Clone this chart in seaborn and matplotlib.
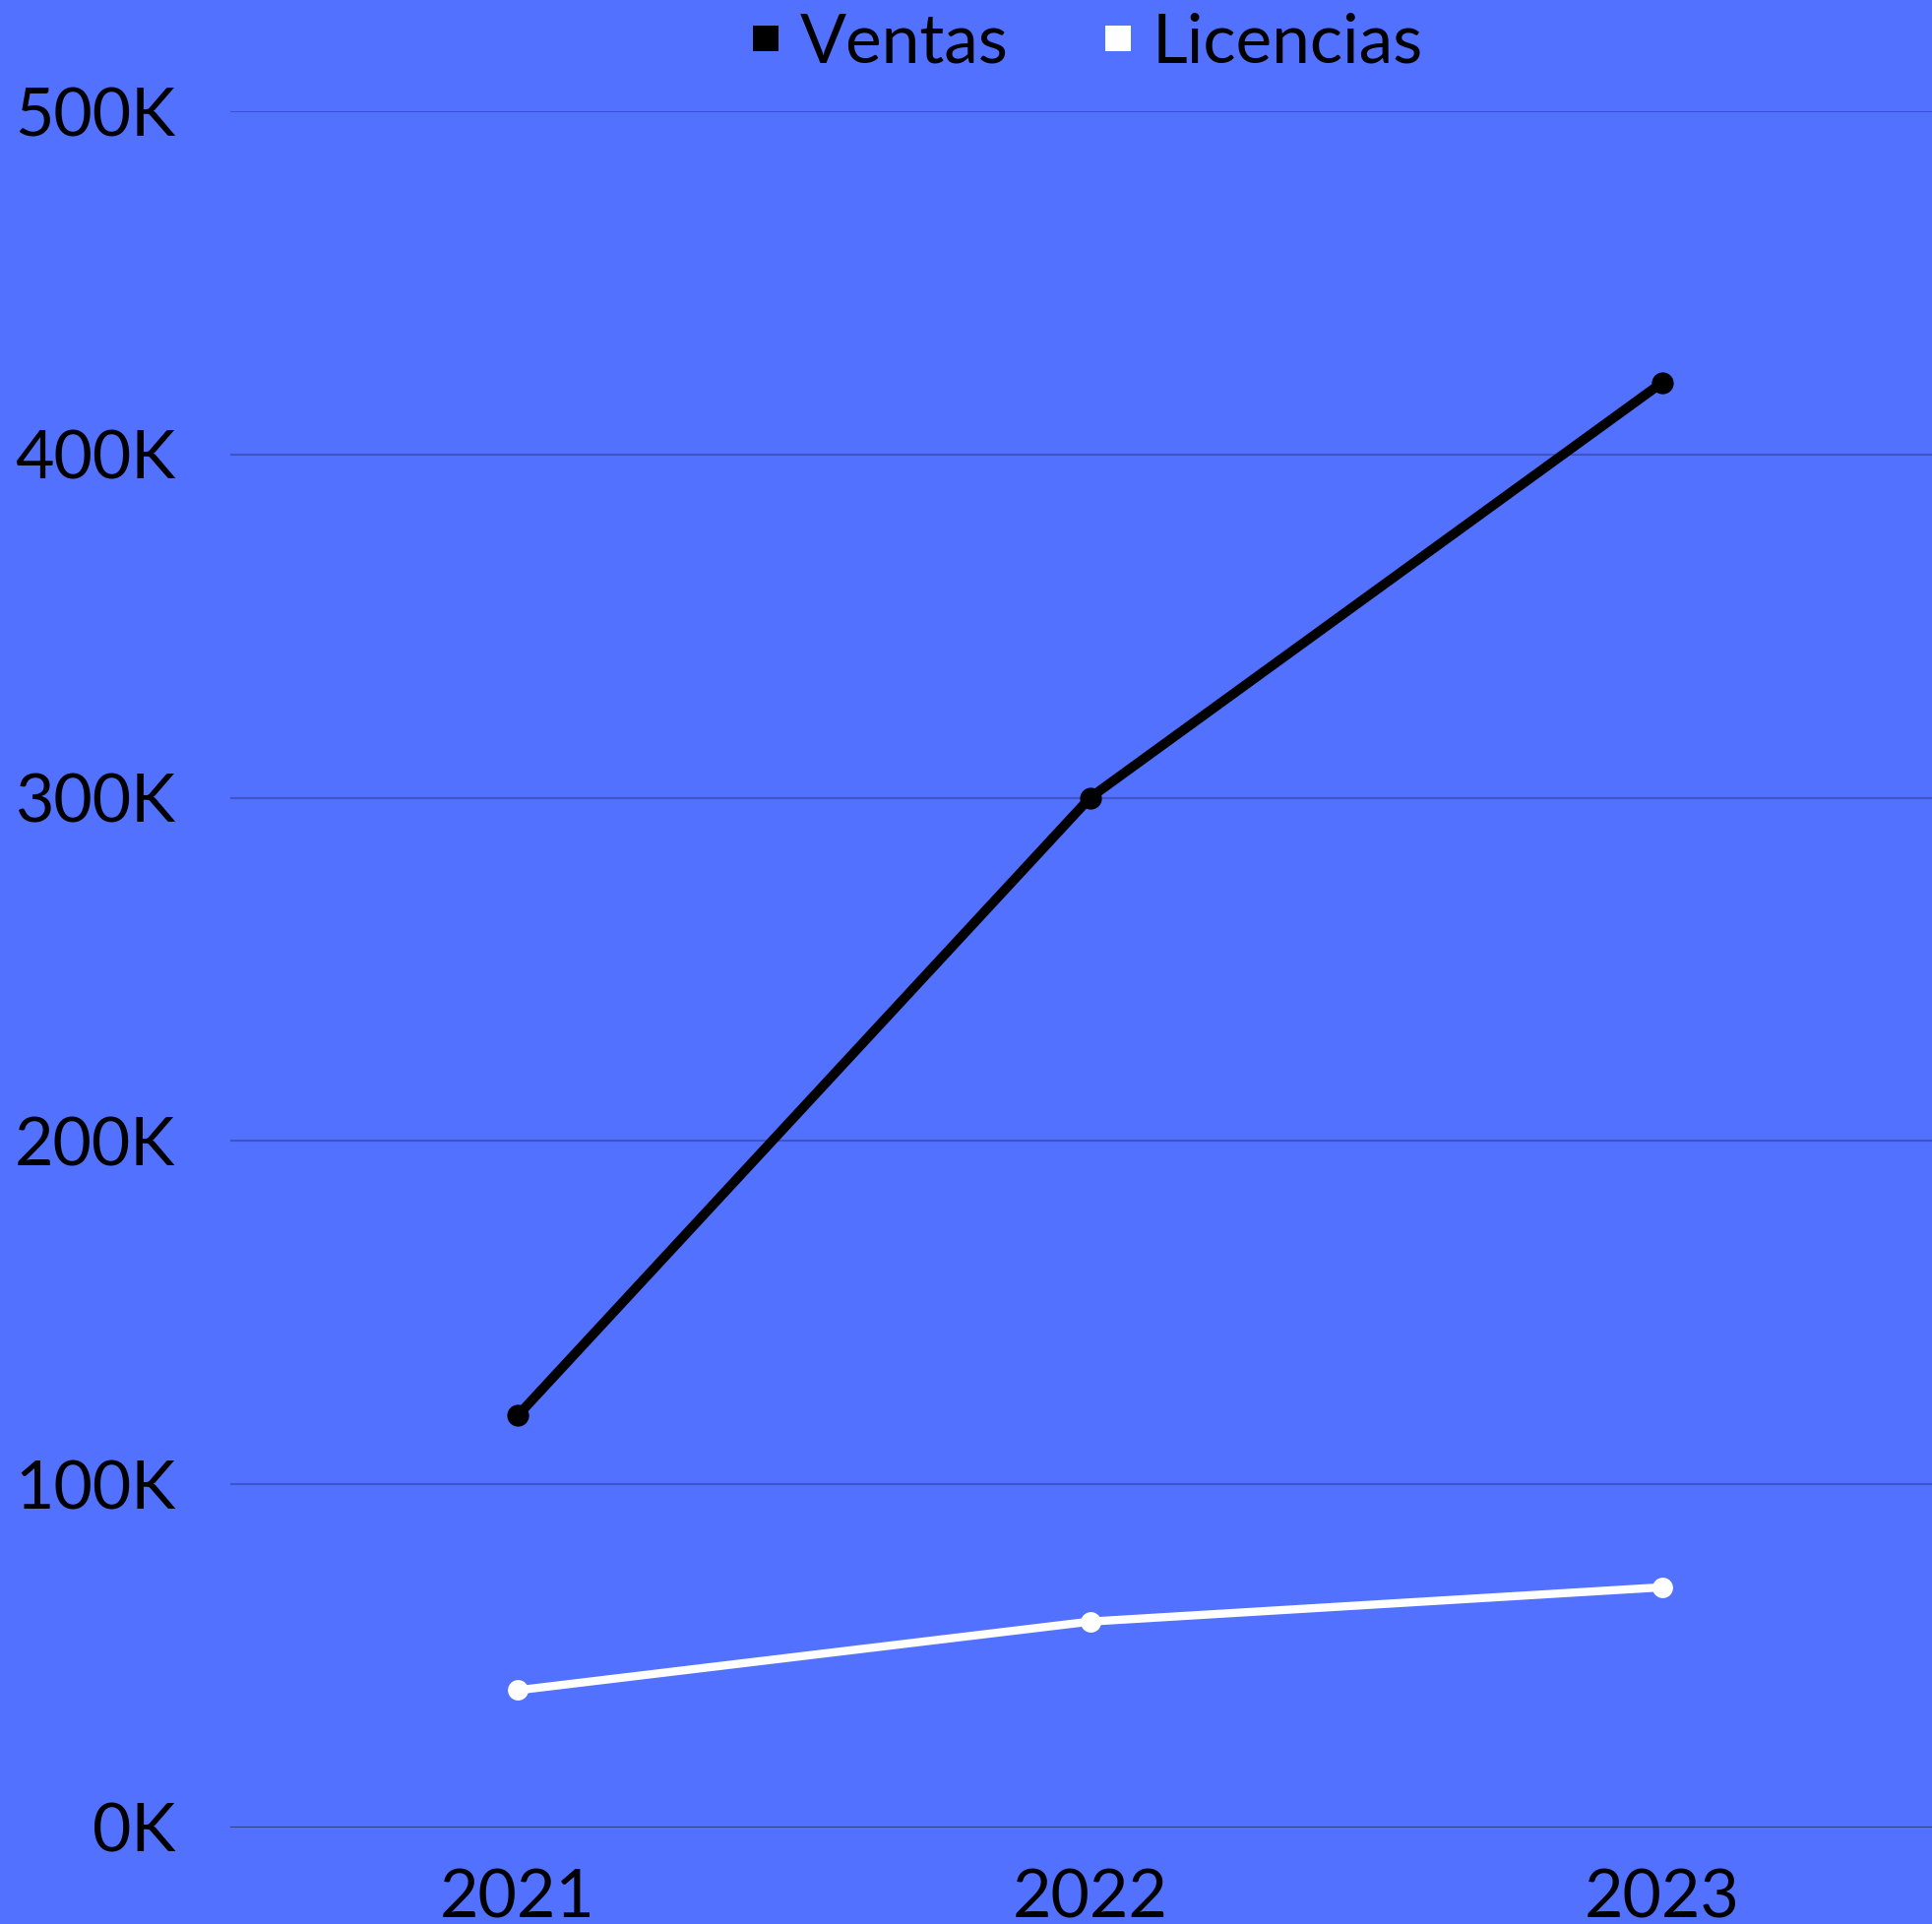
import matplotlib
matplotlib.use("Agg")
import matplotlib.pyplot as plt
import seaborn as sns
import pandas as pd
from matplotlib.lines import Line2D
from matplotlib.ticker import FuncFormatter

years = ["2021", "2022", "2023"]
ventas = [120000, 300000, 421000]
licencias = [40000, 60000, 70000]
series_names = ["Ventas", "Licencias"]
colors = ["#000000", "#FFFFFF"]

df = pd.DataFrame({
    "year": years * 2,
    "value": ventas + licencias,
    "serie": [series_names[0]] * 3 + [series_names[1]] * 3,
})

sns.set_theme(style="white")
plt.rcParams["font.family"] = ["Lato", "DejaVu Sans"]
plt.rcParams["text.color"] = "black"

bg = "#5271FF"
W, H = 1963, 1955
fig = plt.figure(figsize=(W / 100, H / 100), dpi=100, facecolor=bg)
ax = fig.add_axes([234 / W, 1 - 1857 / H, (W - 234) / W, (1857 - 113) / H])
ax.set_facecolor(bg)

sns.lineplot(data=df, x="year", y="value", hue="serie", palette=dict(zip(series_names, colors)),
             marker="o", markersize=16, markeredgewidth=0, linewidth=7, ax=ax, legend=False, sort=False)
for ln, w, ms in zip(ax.lines, [7, 6], [16, 15]):
    ln.set_linewidth(w)
    ln.set_markersize(ms)
    ln.set_solid_capstyle("round")

ax.set_xlim(-0.502, 2.471)
ax.set_ylim(0, 500000)
ax.set_yticks([0, 100000, 200000, 300000, 400000, 500000])
ax.yaxis.set_major_formatter(FuncFormatter(lambda v, p: f"{int(v/1000)}K"))
ax.set_xlabel("")
ax.set_ylabel("")
ax.grid(axis="y", color="#3d55c4", linewidth=1.5)
ax.grid(axis="x", visible=False)
ax.set_axisbelow(True)
for s in ax.spines.values():
    s.set_visible(False)
ax.axhline(0, color="#2c3a85", linewidth=2, zorder=1)
ax.tick_params(axis="both", length=0, labelsize=49, colors="black")
ax.tick_params(axis="y", pad=40)
ax.tick_params(axis="x", pad=30)
for lab in ax.get_xticklabels() + ax.get_yticklabels():
    lab.set_color("black")

handles = [Line2D([0], [0], marker="s", linestyle="none", markersize=19,
                  markerfacecolor=c, markeredgewidth=0) for c in colors]
leg = fig.legend(handles, series_names, loc="center", bbox_to_anchor=(1098 / W, 1 - 44 / H),
                 ncol=2, frameon=False, fontsize=50, handletextpad=0.1, columnspacing=1.2,
                 handlelength=0.8)
for t in leg.get_texts():
    t.set_color("black")

fig.savefig("out.png", dpi=100, facecolor=bg)
